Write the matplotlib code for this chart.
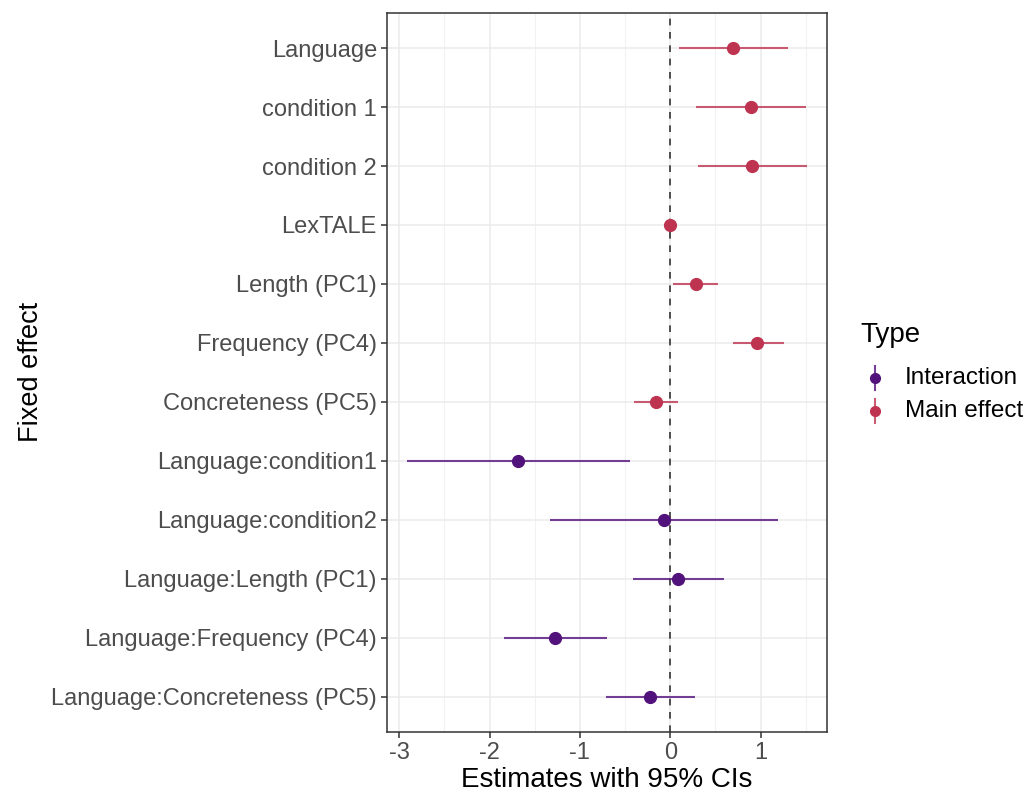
import numpy as np
import matplotlib.pyplot as plt
from matplotlib.lines import Line2D

plt.rcParams['font.family'] = ['Liberation Sans', 'DejaVu Sans']

# Fixed effects of the model, top to bottom
effects = ['Language', 'condition 1', 'condition 2', 'LexTALE', 'Length (PC1)',
           'Frequency (PC4)', 'Concreteness (PC5)', 'Language:condition1',
           'Language:condition2', 'Language:Length (PC1)',
           'Language:Frequency (PC4)', 'Language:Concreteness (PC5)']
estimate = [0.70, 0.89, 0.91, 0.00, 0.29, 0.96, -0.16, -1.68, -0.07, 0.09, -1.27, -0.22]
ci_low = [0.10, 0.29, 0.31, -0.01, 0.03, 0.69, -0.40, -2.91, -1.33, -0.41, -1.84, -0.71]
ci_high = [1.30, 1.50, 1.51, 0.01, 0.53, 1.26, 0.09, -0.44, 1.19, 0.60, -0.70, 0.27]
effect_type = ['Main effect'] * 7 + ['Interaction'] * 5

types = ['Interaction', 'Main effect']
colores = {'Interaction': '#52127C', 'Main effect': '#BE3450'}

fig = plt.figure(figsize=(10.32, 7.96), dpi=100)
ax = fig.add_axes([0.3753, 0.0804, 0.8010 - 0.3753, 0.984 - 0.0804])

n = len(effects)
ypos = np.arange(n, 0, -1)

# grade estilo theme_bw
for xv in np.arange(-3, 2, 1):
    ax.axvline(xv, color='#EBEBEB', lw=1.1, zorder=0)
for xv in np.arange(-2.5, 2, 1):
    ax.axvline(xv, color='#F2F2F2', lw=0.8, zorder=0)
for yv in ypos:
    ax.axhline(yv, color='#EBEBEB', lw=1.1, zorder=0)

ax.axvline(0, color='#333333', lw=1.2, linestyle=(0, (4, 4)), zorder=1)

for i in range(n):
    cor = colores[effect_type[i]]
    ax.plot([ci_low[i], ci_high[i]], [ypos[i], ypos[i]], color=cor, lw=1.5,
            alpha=0.8, solid_capstyle='butt', zorder=2)
    ax.plot(estimate[i], ypos[i], 'o', color=cor, markersize=8.5, zorder=3)

lo, hi = min(ci_low), max(ci_high)
pad = 0.05 * (hi - lo)
ax.set_xlim(lo - pad, hi + pad)
ax.set_ylim(0.4, n + 0.6)

ax.set_yticks(ypos)
ax.set_yticklabels(effects)
ax.set_xticks([-3, -2, -1, 0, 1])
ax.set_xticklabels(['-3', '-2', '-1', '0', '1'])
ax.tick_params(axis='both', colors='#333333', labelcolor='#4D4D4D',
               labelsize=17, length=4, width=1.1)
ax.tick_params(axis='x', pad=3)
for s in ax.spines.values():
    s.set_color('#333333')
    s.set_linewidth(1.1)

ax.set_xlabel('Estimates with 95% CIs', fontsize=20, labelpad=2)
ax.set_ylabel('Fixed effect', fontsize=19.5, labelpad=5)

# legenda desenhada a mao (ponto com barra vertical)
fig.text(860 / 1032, 1 - 335 / 796, 'Type', fontsize=20, va='center', ha='left')
for k, t in enumerate(types):
    yk = 1 - (378 + 33 * k) / 796
    xk = 875 / 1032
    fig.add_artist(Line2D([xk, xk], [yk - 12 / 796, yk + 12 / 796],
                          color=colores[t], lw=1.5, alpha=0.8))
    fig.add_artist(Line2D([xk], [yk], marker='o', color=colores[t],
                          markersize=7))
    fig.text(905 / 1032, yk, t, fontsize=17.5, va='center', ha='left')

fig.savefig('out.png', dpi=100)
